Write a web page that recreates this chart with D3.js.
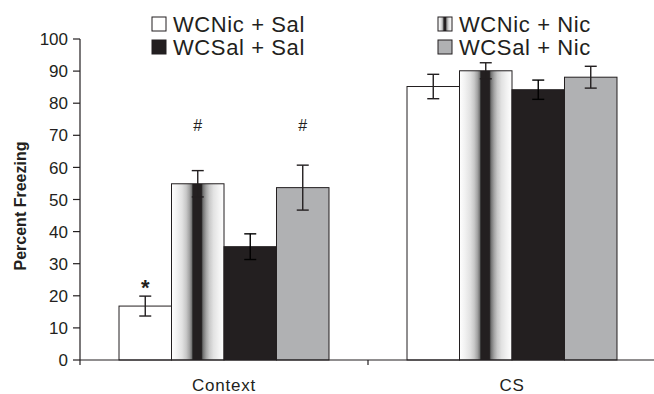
<!DOCTYPE html>
<html>
<head>
<meta charset="utf-8">
<script src="https://cdn.jsdelivr.net/npm/d3@7"></script>
<style>
  body { margin: 0; background: #fff; }
  svg { display: block; font-family: "Liberation Sans", Arial, sans-serif; }
</style>
</head>
<body>
<svg width="654" height="394"></svg>
<script>
// data
var categories = ["Context", "CS"]
var seriesNames = ["WCNic + Sal", "WCNic + Nic", "WCSal + Sal", "WCSal + Nic"]
var means = [
  [16.8, 85.2],
  [54.9, 90.1],
  [35.3, 84.2],
  [53.7, 88.1]
]
var sems = [
  [3.1, 3.8],
  [4.1, 2.5],
  [4.0, 3.0],
  [7.0, 3.4]
]
// significance marks: [series, category, symbol, level]
var marks = [
  [0, 0, "*", 25],
  [1, 0, "#", 73],
  [3, 0, "#", 73]
]
var yTicks = [0, 10, 20, 30, 40, 50, 60, 70, 80, 90, 100]

var ink = "#231f20"
var fills = ["#ffffff", "url(#stripe)", "#231f20", "#b0b1b3"]

var svg = d3.select("svg")

// gradient for the WCNic + Nic bars
var defs = svg.append("defs")
var stops = [[0, "#ffffff"], [0.1, "#f2f2f2"], [0.2, "#e2e2e2"], [0.28, "#c8c8c8"],
  [0.34, "#a4a4a4"], [0.38, "#7a7a7a"], [0.4, "#3a3a3a"], [0.41, "#231f20"], [0.57, "#231f20"],
  [0.58, "#4a4a4a"], [0.61, "#7a7a7a"], [0.66, "#a4a4a4"], [0.72, "#c8c8c8"],
  [0.8, "#e2e2e2"], [0.9, "#f2f2f2"], [1, "#ffffff"]]
var grad = defs.append("linearGradient").attr("id", "stripe")
  .attr("x1", 0).attr("x2", 1).attr("y1", 0).attr("y2", 0)
grad.selectAll("stop").data(stops).join("stop")
  .attr("offset", function (d) { return d[0] })
  .attr("stop-color", function (d) { return d[1] })

var x0 = d3.scaleBand().domain(categories).range([80, 656])
var x1 = d3.scaleBand().domain(d3.range(seriesNames.length))
  .range([0, x0.bandwidth()]).paddingOuter(0.743)
var y = d3.scaleLinear().domain([0, 100]).range([360, 39])

// y axis
var yAxis = svg.append("g").attr("transform", "translate(80,0)")
yAxis.append("line").attr("x1", 0).attr("x2", 0).attr("y1", y(100)).attr("y2", y(0) + 5)
  .attr("stroke", ink).attr("stroke-width", 1.2)
yAxis.selectAll(".tk").data(yTicks).join("line")
  .attr("x1", -7).attr("x2", 0)
  .attr("y1", function (d) { return y(d) }).attr("y2", function (d) { return y(d) })
  .attr("stroke", ink).attr("stroke-width", 1.2)
yAxis.selectAll("text").data(yTicks).join("text")
  .attr("x", -12).attr("y", function (d) { return y(d) })
  .attr("dy", "0.36em").attr("text-anchor", "end")
  .attr("font-size", 17).attr("fill", ink)
  .text(function (d) { return d })

svg.append("text")
  .attr("transform", "translate(26," + 206 + ") rotate(-90)")
  .attr("text-anchor", "middle").attr("font-size", 16).attr("font-weight", "bold")
  .attr("fill", ink).text("Percent Freezing")

// bars
var groups = svg.selectAll(".grp").data(categories).join("g")
  .attr("transform", function (c) { return "translate(" + x0(c) + ",0)" })

groups.each(function (c, ci) {
  var g = d3.select(this)
  seriesNames.forEach(function (s, si) {
    var v = means[si][ci], e = sems[si][ci]
    var bx = x1(si), bw = x1.bandwidth()
    g.append("rect")
      .attr("x", bx).attr("width", bw)
      .attr("y", y(v)).attr("height", y(0) - y(v))
      .attr("fill", fills[si]).attr("stroke", ink).attr("stroke-width", 1)
    var cx = bx + bw / 2
    var col = si === 2 ? "#000" : ink
    g.append("line").attr("x1", cx).attr("x2", cx)
      .attr("y1", y(v + e)).attr("y2", y(v - e))
      .attr("stroke", col).attr("stroke-width", 1.4)
    ;[v + e, v - e].forEach(function (t) {
      g.append("line").attr("x1", cx - 6).attr("x2", cx + 6)
        .attr("y1", y(t)).attr("y2", y(t))
        .attr("stroke", col).attr("stroke-width", 1.4)
    })
  })
})

// x axis
svg.append("line").attr("x1", 80).attr("x2", 656).attr("y1", y(0)).attr("y2", y(0))
  .attr("stroke", ink).attr("stroke-width", 1.2)
svg.selectAll(".xt").data(categories.slice(1)).join("line")
  .attr("x1", function (c) { return x0(c) }).attr("x2", function (c) { return x0(c) })
  .attr("y1", y(0)).attr("y2", y(0) + 5)
  .attr("stroke", ink).attr("stroke-width", 1.2)
svg.selectAll(".xl").data(categories).join("text")
  .attr("x", function (c) { return x0(c) + x0.bandwidth() / 2 })
  .attr("y", 391).attr("text-anchor", "middle")
  .attr("font-size", 17).attr("letter-spacing", 0.8).attr("fill", ink)
  .text(function (c) { return c })

// significance marks
svg.selectAll(".mk").data(marks).join("text")
  .attr("x", function (m) { return x0(categories[m[1]]) + x1(m[0]) + x1.bandwidth() / 2 })
  .attr("y", function (m) { return y(m[3]) })
  .attr("text-anchor", "middle")
  .attr("font-size", function (m) { return m[2] === "*" ? 22 : 16 })
  .attr("dy", function (m) { return m[2] === "*" ? "0.7em" : "0.35em" })
  .attr("font-weight", function (m) { return m[2] === "*" ? "bold" : "normal" })
  .attr("fill", ink)
  .text(function (m) { return m[2] })

// legend: two columns, two rows
var legendPos = [[152, 17], [438, 17], [152, 40], [438, 40]]
var legendOrder = [0, 1, 2, 3]
var leg = svg.selectAll(".lg").data(legendOrder).join("g")
  .attr("transform", function (d, i) { return "translate(" + legendPos[i][0] + "," + legendPos[i][1] + ")" })
leg.append("rect").attr("width", 14).attr("height", 14)
  .attr("fill", function (d) { return fills[d] })
  .attr("stroke", ink).attr("stroke-width", 1)
leg.append("text").attr("x", 21).attr("y", 14.5)
  .attr("font-size", 22).attr("letter-spacing", 0.6).attr("fill", ink)
  .text(function (d) { return seriesNames[d] })
</script>
</body>
</html>
